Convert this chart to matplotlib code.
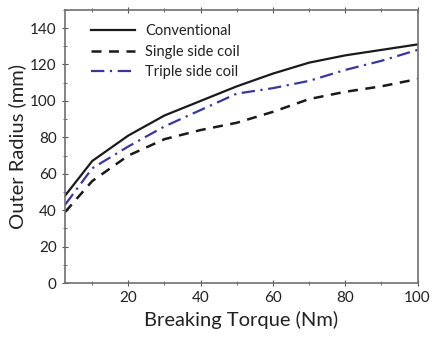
import numpy as np
import matplotlib
matplotlib.use("Agg")
import matplotlib.pyplot as plt
from matplotlib.ticker import MultipleLocator

# Breaking torque (Nm) vs outer radius (mm)
torque = [2.5, 10, 20, 30, 40, 50, 60, 70, 80, 90, 100]
conventional = [48, 67, 81, 92, 100, 108, 115, 121, 125, 128, 131]
single_side = [39, 56, 70, 79, 84, 88, 94, 101, 105, 108, 112]
triple_side = [43, 63, 75, 86, 95, 104, 107, 111, 117, 122, 128]

plt.rcParams['font.family'] = ['Lato', 'DejaVu Sans']

fig = plt.figure(figsize=(4.34, 3.39), dpi=100)
ax = fig.add_axes([0.150, 0.165, 0.812, 0.806])

ax.plot(torque, conventional, color='#1a1a1a', lw=1.6, label='Conventional')
ax.plot(torque, single_side, color='#1a1a1a', lw=1.8, linestyle=(0, (4, 3)),
        label='Single side coil')
ax.plot(torque, triple_side, color='#3a36a0', lw=1.6, linestyle=(0, (6, 2.5, 1, 2.5)),
        label='Triple side coil')

ax.set_xlim(2.5, 100)
ax.set_ylim(0, 150)
ax.xaxis.set_major_locator(MultipleLocator(20))
ax.xaxis.set_minor_locator(MultipleLocator(10))
ax.yaxis.set_major_locator(MultipleLocator(20))
ax.yaxis.set_minor_locator(MultipleLocator(10))
ax.set_yticks(range(0, 141, 20))

for s in ax.spines.values():
    s.set_color('#707070')
    s.set_linewidth(1.2)
ax.tick_params(which='both', direction='inout', color='#555555', top=True, right=False,
               labelsize=11, labelcolor='#222222')
ax.tick_params(which='major', length=5)
ax.tick_params(which='minor', length=3)

ax.set_xlabel('Breaking Torque (Nm)', fontsize=14.5, color='#222222', labelpad=4)
ax.set_ylabel('Outer Radius (mm)', fontsize=14.5, color='#222222', labelpad=3)

leg = ax.legend(loc='upper left', bbox_to_anchor=(0.045, 0.985), frameon=False,
                fontsize=10.5, handlelength=3.0, borderaxespad=0.3,
                labelspacing=0.45, handletextpad=0.7)
for t in leg.get_texts():
    t.set_color('#222222')

fig.savefig('out.png', dpi=100)
